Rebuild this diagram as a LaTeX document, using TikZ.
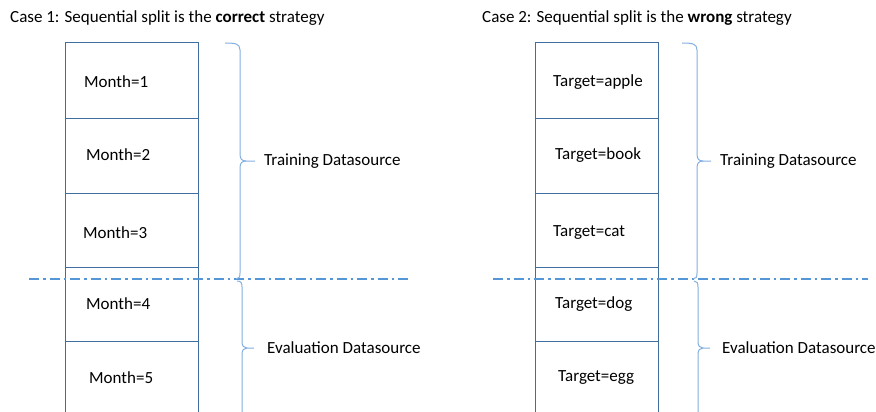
\documentclass[tikz,border=0pt]{standalone}
\usepackage{fontspec}
\setmainfont{Carlito}
\definecolor{boxblue}{RGB}{65,110,160}
\definecolor{braceblue}{RGB}{130,175,225}
\definecolor{dashblue}{RGB}{85,150,215}
\begin{document}
\begin{tikzpicture}[x=1pt,y=-1pt,
  cellline/.style={draw=boxblue,line width=1pt},
  bracel/.style={draw=braceblue,line width=1pt},
  splitline/.style={draw=dashblue,line width=1.3pt,dash pattern=on 10pt off 4pt on 2.5pt off 4pt},
  celltext/.style={anchor=west,inner sep=0pt,font=\fontsize{17}{20}\selectfont},
  bracetext/.style={anchor=west,inner sep=0pt,font=\fontsize{17}{20}\selectfont},
  titletext/.style={anchor=west,inner sep=0pt,font=\fontsize{17}{20}\selectfont}]
\useasboundingbox (0,0) rectangle (876,412);
% titles
\node[titletext] (t1) at (10,18) {Case 1: Sequential split is the \textbf{correct} strategy};
\node[titletext] (t2) at (482,18) {Case 2: Sequential split is the \textbf{wrong} strategy};
% ---- Case 1 column
\draw[cellline] (65,412) -- (65,43) -- (198,43) -- (198,412);
\foreach \y in {118,193,267,341} \draw[cellline] (65,\y) -- (198,\y);
\node[celltext] (m1) at (84,82) {Month=1};
\node[celltext] (m2) at (86,155) {Month=2};
\node[celltext] (m3) at (83,233) {Month=3};
\node[celltext] (m4) at (86,304) {Month=4};
\node[celltext] (m5) at (89,378) {Month=5};
% ---- Case 2 column
\draw[cellline] (535,412) -- (535,43) -- (658,43) -- (658,412);
\foreach \y in {118,193,267,341} \draw[cellline] (535,\y) -- (658,\y);
\node[celltext] (a1) at (553,82) {Target=apple};
\node[celltext] (a2) at (555,155) {Target=book};
\node[celltext] (a3) at (553,233) {Target=cat};
\node[celltext] (a4) at (555,304) {Target=dog};
\node[celltext] (a5) at (558,378) {Target=egg};
% split lines
\coordinate (s1a) at (29,279); \coordinate (s1b) at (408,279);
\coordinate (s2a) at (493,279); \coordinate (s2b) at (868,279);
\draw[splitline] (s1a) -- (s1b);
\draw[splitline] (s2a) -- (s2b);
% braces case 1
\draw[bracel] (225,43) .. controls (236,43) and (240,44) .. (240,50) -- (240,154)
  .. controls (240,159) and (242,161) .. (246,161) -- (255,161);
\draw[bracel] (246,161) .. controls (242,161) and (240,163) .. (240,168) -- (240,273)
  .. controls (240,277) and (239,279) .. (236,279);
\draw[bracel] (237,281) .. controls (241,281) and (242,283) .. (242,287) -- (242,342)
  .. controls (242,346) and (244,348) .. (247,348) -- (254,348);
\draw[bracel] (247,348) .. controls (244,348) and (242,350) .. (242,354) -- (242,412);
\node[bracetext] (tr1) at (264,161) {Training Datasource};
\node[bracetext] (ev1) at (267,348) {Evaluation Datasource};
% braces case 2
\draw[bracel] (682,43) .. controls (693,43) and (697,44) .. (697,50) -- (697,154)
  .. controls (697,159) and (699,161) .. (703,161) -- (711,161);
\draw[bracel] (703,161) .. controls (699,161) and (697,163) .. (697,168) -- (697,273)
  .. controls (697,277) and (696,279) .. (693,279);
\draw[bracel] (694,281) .. controls (697,281) and (698,283) .. (698,287) -- (698,342)
  .. controls (698,346) and (700,348) .. (703,348) -- (710,348);
\draw[bracel] (703,348) .. controls (700,348) and (698,350) .. (698,354) -- (698,412);
\node[bracetext] (tr2) at (720,161) {Training Datasource};
\node[bracetext] (ev2) at (722,348) {Evaluation Datasource};
\end{tikzpicture}
\end{document}
